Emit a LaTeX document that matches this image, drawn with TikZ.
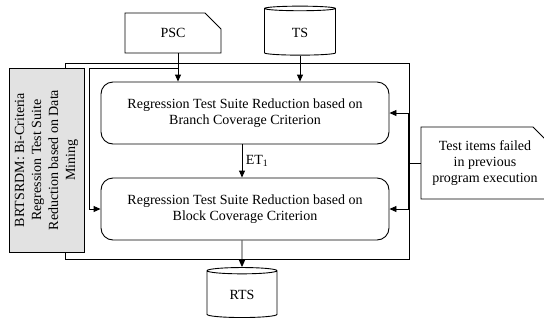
\documentclass[tikz,border=0pt]{standalone}
\usepackage{fontspec}
\setmainfont{Liberation Serif}
\usetikzlibrary{arrows.meta,shapes.geometric,shapes.misc}
\definecolor{panelgray}{HTML}{E2E2E2}
\def\txt{\fontsize{14}{16}\selectfont}

\begin{document}
\begin{tikzpicture}[x=1pt, y=-1pt, line width=0.9pt,
	arr/.style={-{Triangle[length=7pt,width=6pt]}},
	procbox/.style={draw, rounded corners=12pt, minimum width=288pt, minimum height=62pt, align=center, font=\txt},
	store/.style={draw, cylinder, shape border rotate=90, aspect=0.2, minimum width=71pt, minimum height=49pt, font=\txt},
	note/.style={draw, chamfered rectangle, chamfered rectangle corners=north east, chamfered rectangle sep=8pt, align=center, font=\txt}]
		%%%%% START %%%%%
		\useasboundingbox (0, 0) rectangle (544, 322);
		
		\node[draw, minimum width=344pt, minimum height=196pt] (frame) at (237, 161) {};
		\node[draw, fill=panelgray, rotate=90, minimum width=184pt, minimum height=75pt, inner sep=1pt, align=center, font=\fontsize{14}{17}\selectfont] (algo) at (46.5, 160)
			{BRTSRDM: Bi-Criteria\\Regression Test Suite\\Reduction based on Data\\Mining};
		
		\node[note, minimum width=96pt, minimum height=40pt] (psc) at (173, 33) {PSC};
		\node[store] (ts) at (300, 32.5) {TS};
		
		\node[procbox] (branch) at (245, 113) {Regression Test Suite Reduction based on\\Branch Coverage Criterion};
		\node[procbox] (block) at (245, 209) {Regression Test Suite Reduction based on\\Block Coverage Criterion};
		
		\node[store, minimum width=70pt, minimum height=50pt] (rts) at (242, 295) {RTS};
		\node[note, minimum width=112pt, minimum height=72pt] (failed) at (485, 163) {Test items failed\\in previous\\program execution};
		
		\coordinate (split) at (178, 68);
		\draw[arr] ([xshift=5pt]psc.south) -- ([xshift=5pt]psc.south |- branch.north);
		\draw[arr] (split) -| ([xshift=-11pt]block.west) -- (block.west);
		\draw[arr] (ts.south) -- (ts.south |- branch.north);
		\draw[arr] ([xshift=-3pt]branch.south) -- node[right, font=\txt] {ET\textsubscript{1}} ([xshift=-3pt]block.north);
		\draw[arr] ([xshift=-3pt]block.south) -- (rts.north);
		
		\draw[arr] (failed.west) -- ++(-12, 0) |- (branch.east);
		\draw[arr] (failed.west) -- ++(-12, 0) |- (block.east);
		%%%%% END %%%%%
\end{tikzpicture}
\end{document}
